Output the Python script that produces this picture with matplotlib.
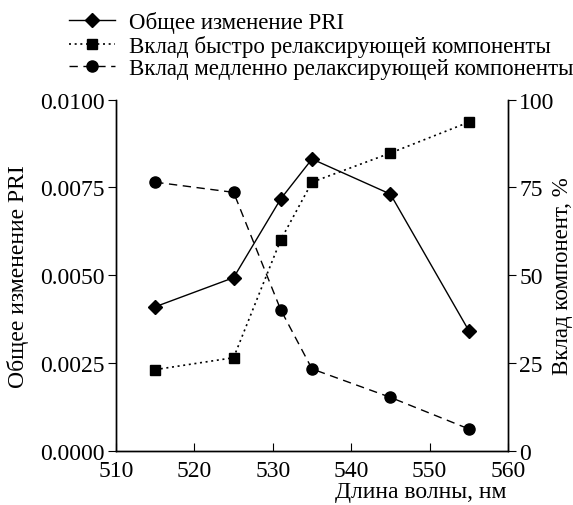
import matplotlib
matplotlib.use("Agg")
import matplotlib.pyplot as plt
from matplotlib.ticker import FormatStrFormatter

plt.rcParams['font.family'] = ['Liberation Serif', 'DejaVu Serif']
plt.rcParams['mathtext.fontset'] = 'stix'

wavelength = [515, 525, 531, 535, 545, 555]
pri_change = [0.0041, 0.00493, 0.00717, 0.00831, 0.00731, 0.00342]
fast_contrib = [23.1, 26.5, 60.0, 76.5, 84.8, 93.6]
slow_contrib = [76.5, 73.6, 40.2, 23.3, 15.2, 6.2]

label_pri = "Общее изменение PRI"
label_fast = "Вклад быстро релаксирующей компоненты"
label_slow = "Вклад медленно релаксирующей компоненты"

fig = plt.figure(figsize=(5.73, 5.06), dpi=100)
ax = fig.add_axes([0.2024, 0.1073, 0.6842, 0.6937])
ax2 = ax.twinx()

l1, = ax.plot(wavelength, pri_change, color='black', lw=1.0, marker='D', ms=7, label=label_pri)
l2, = ax2.plot(wavelength, fast_contrib, color='black', lw=1.2, ls=(0, (1.2, 2.2)), marker='s', ms=6.5, label=label_fast)
l3, = ax2.plot(wavelength, slow_contrib, color='black', lw=1.0, ls=(0, (6, 4)), marker='o', ms=8, label=label_slow)

ax.set_xlim(510, 560)
ax.set_ylim(0, 0.01)
ax2.set_ylim(0, 100)
ax.set_xticks([510, 520, 530, 540, 550, 560])
ax.set_yticks([0, 0.0025, 0.005, 0.0075, 0.01])
ax.yaxis.set_major_formatter(FormatStrFormatter('%.4f'))
ax2.set_yticks([0, 25, 50, 75, 100])

for a in (ax, ax2):
    a.spines['top'].set_visible(False)
    for s in a.spines.values():
        s.set_linewidth(1.0)
ax.tick_params(axis='x', direction='in', length=6, labelsize=17, pad=7)
ax.tick_params(axis='y', direction='out', length=6, labelsize=17, pad=2)
ax2.tick_params(axis='y', direction='out', length=6, labelsize=17, pad=2)

ax.set_ylabel(label_pri, fontsize=17, labelpad=8)
ax2.set_ylabel(label_slow.split()[0] + " компонент, %", fontsize=16.5, labelpad=-2)
fig.text(0.735, 0.026, "Длина волны, нм", fontsize=17, ha='center', va='center')

leg = fig.legend(handles=[l1, l2, l3], loc='upper left', bbox_to_anchor=(0.105, 0.995),
                 frameon=False, fontsize=16.5, handlelength=2.0, handletextpad=0.6,
                 labelspacing=0.08, borderaxespad=0)

fig.savefig("out.png", dpi=100)
